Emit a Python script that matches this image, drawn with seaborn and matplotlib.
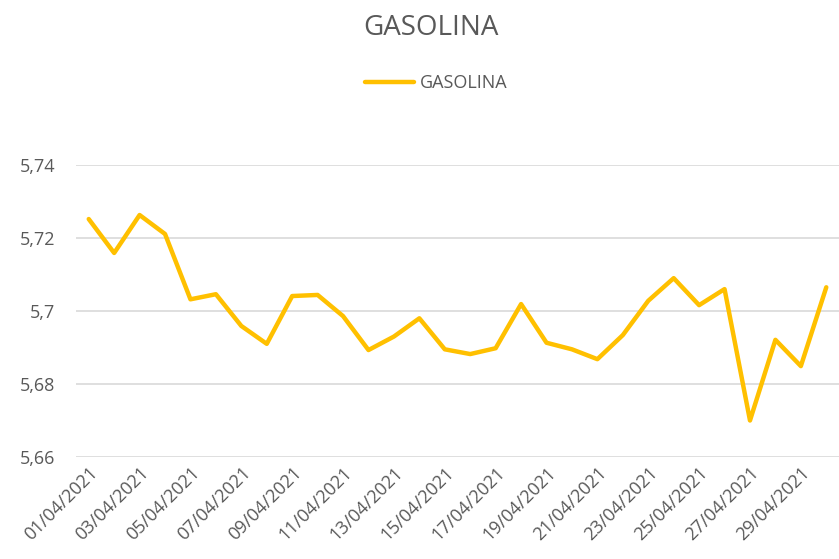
import matplotlib
matplotlib.use("Agg")
import matplotlib.pyplot as plt
import seaborn as sns
import pandas as pd

dates = [f"{d:02d}/04/2021" for d in range(1, 31)]
gasolina = [5.7252, 5.7159, 5.7263, 5.7211, 5.7032, 5.7046, 5.6959, 5.6910,
            5.7041, 5.7044, 5.6986, 5.6893, 5.6930, 5.6980, 5.6895, 5.6882,
            5.6898, 5.7019, 5.6913, 5.6895, 5.6868, 5.6934, 5.7028, 5.7090,
            5.7016, 5.7060, 5.6700, 5.6921, 5.6849, 5.7065]
yticks = [5.66, 5.68, 5.70, 5.72, 5.74]
ytick_labels = ["5,66", "5,68", "5,7", "5,72", "5,74"]

df = pd.DataFrame({"fecha": dates, "GASOLINA": gasolina})

sns.set_theme(style="white")
plt.rcParams["font.family"] = ["Open Sans", "DejaVu Sans"]

grey = "#595959"
fig = plt.figure(figsize=(8.39, 5.59), dpi=100)
ax = fig.add_axes([0.0906, 0.1825, 0.9094, 0.5223])

sns.lineplot(data=df, x="fecha", y="GASOLINA", ax=ax, color="#FFC000",
             linewidth=3.2, label="GASOLINA", sort=False)

ax.set_xlim(-0.5, len(dates) - 0.5)
ax.set_ylim(5.66, 5.74)
ax.set_yticks(yticks)
ax.set_yticklabels(ytick_labels)
ax.set_xticks(range(0, len(dates), 2))
ax.set_xticklabels(dates[::2], rotation=45, ha="right", rotation_mode="anchor")
ax.tick_params(axis="both", length=0, labelsize=13, colors=grey)
ax.tick_params(axis="y", pad=15)
ax.tick_params(axis="x", pad=5)
ax.set_xlabel("")
ax.set_ylabel("")
ax.grid(axis="y", color="#D9D9D9", linewidth=1.2)
ax.set_axisbelow(True)
for s in ax.spines.values():
    s.set_visible(False)

fig.text(0.514, 0.95, "GASOLINA", ha="center", va="center", fontsize=20, color=grey)
leg = ax.legend(loc="center", bbox_to_anchor=(0.52, 0.851), bbox_transform=fig.transFigure,
                frameon=False, fontsize=13, handlelength=2.7, handletextpad=0.3,
                labelcolor=grey)

fig.savefig("out.png", dpi=100)
